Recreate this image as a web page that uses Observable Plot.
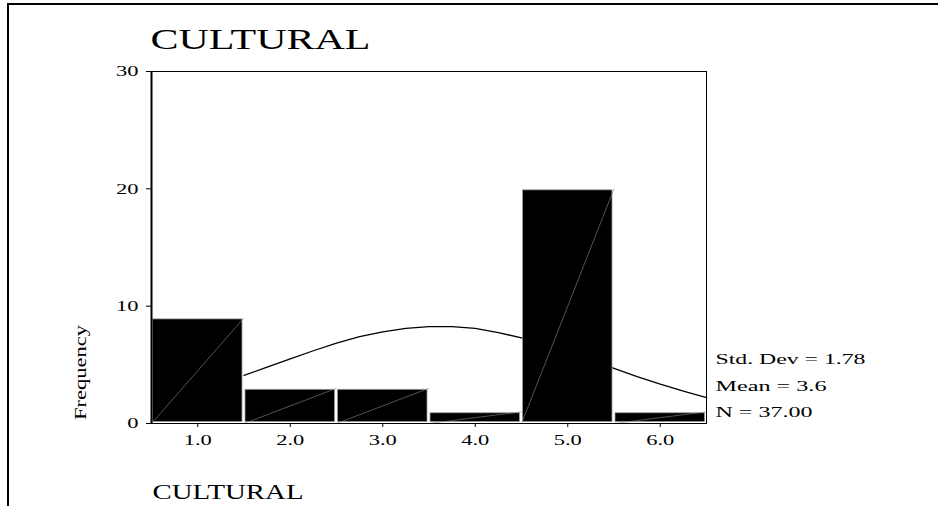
<!DOCTYPE html>
<html><head><meta charset="utf-8">
<script src="https://cdn.jsdelivr.net/npm/d3@7"></script>
<script src="https://cdn.jsdelivr.net/npm/@observablehq/plot@0.6"></script>
<style>
html,body{margin:0;padding:0;background:#fff;}
#wrap{position:relative;width:938px;height:506px;overflow:hidden;}
#border{position:absolute;left:7px;top:3px;width:940px;height:510px;border-top:2px solid #000;border-left:2px solid #000;pointer-events:none;}
#wrap svg{position:absolute;left:0;top:0;}
</style></head><body>
<div id="wrap"><div id="border"></div></div>
<script>
// ---- data ----
const categories = [1, 2, 3, 4, 5, 6];
const frequencies = [9, 3, 3, 1, 20, 1];
const curveX = [1.5, 1.75, 2.0, 2.25, 2.5, 2.75, 3.0, 3.25, 3.5, 3.75, 4.0, 4.25, 4.5, 4.75, 5.0, 5.25, 5.5, 5.75, 6.0, 6.25, 6.5];
const curveY = [4.1, 4.8, 5.5, 6.2, 6.85, 7.4, 7.8, 8.1, 8.25, 8.25, 8.1, 7.75, 7.3, 6.7, 6.1, 5.4, 4.7, 4.0, 3.35, 2.75, 2.2];
const yTicks = [0, 10, 20, 30];
const xTicks = [1, 2, 3, 4, 5, 6];
const titleText = "CULTURAL";
const xLabel = "CULTURAL";
const yLabel = "Frequency";
const statsLabels = ["Std. Dev = 1.78", "Mean = 3.6", "N = 37.00"];

const bins = categories.map((c, i) => ({x1: c - 0.5, x2: c + 0.5, freq: frequencies[i]}));
const curve = curveX.map((x, i) => ({x, y: curveY[i]}));

const serif = "'Liberation Serif', 'Times New Roman', serif";

const chart = Plot.plot({
  width: 938,
  height: 506,
  marginLeft: 151,
  marginRight: 232,
  marginTop: 71,
  marginBottom: 83,
  style: {fontFamily: serif, fontSize: "15px", background: "transparent", color: "#000", overflow: "visible"},
  x: {domain: [0.5, 6.5]},
  y: {domain: [0, 30]},
  marks: [
    Plot.line(curve, {x: "x", y: "y", stroke: "#000", strokeWidth: 1.3}),
    Plot.rectY(bins, {x1: "x1", x2: "x2", y: "freq", fill: "#000", stroke: "#9a9a9a", strokeWidth: 0.8, inset: 1.5}),
    Plot.link(bins, {x1: "x1", y1: 0, x2: "x2", y2: "freq", stroke: "#8a8a8a", strokeWidth: 0.6}),
    Plot.frame({stroke: "#000", strokeWidth: 1}),
    Plot.ruleX([0.5], {stroke: "#000", strokeWidth: 2}),
    Plot.axisY({ticks: yTicks, tickSize: 5, tickPadding: 8, tickFormat: d => String(d), label: null}),
    Plot.axisX({ticks: xTicks, tickSize: 4, tickPadding: 7, tickFormat: d => d.toFixed(1), label: null}),
    Plot.text([titleText], {text: d => d, frameAnchor: "top-left", dx: -1, dy: -23, textAnchor: "start", lineAnchor: "bottom", fontSize: 30}),
    Plot.text([xLabel], {text: d => d, frameAnchor: "bottom-left", dx: 1, dy: 75, textAnchor: "start", lineAnchor: "bottom", fontSize: 22}),
    Plot.text([yLabel], {text: d => d, frameAnchor: "bottom-left", dx: -66, dy: -51, rotate: -90, textAnchor: "middle", lineAnchor: "bottom", fontSize: 16}),
    Plot.text([statsLabels[0]], {text: d => d, frameAnchor: "bottom-right", dx: 9, dy: -60, textAnchor: "start", lineAnchor: "bottom", fontSize: 15}),
    Plot.text([statsLabels[1]], {text: d => d, frameAnchor: "bottom-right", dx: 9, dy: -33, textAnchor: "start", lineAnchor: "bottom", fontSize: 15}),
    Plot.text([statsLabels[2]], {text: d => d, frameAnchor: "bottom-right", dx: 9, dy: -7, textAnchor: "start", lineAnchor: "bottom", fontSize: 15})
  ]
});
document.getElementById("wrap").appendChild(chart);

// horizontally stretch the text like the reference rendering
const targetWidths = new Map([
  [titleText + "|30", 220],
  [xLabel + "|22", 151],
  [yLabel, 95],
  [statsLabels[0], 150],
  [statsLabels[1], 111],
  [statsLabels[2], 97]
]);
d3.select(chart).selectAll("text").each(function() {
  const t = this.textContent;
  const fs = parseFloat(getComputedStyle(this).fontSize);
  const natural = this.getComputedTextLength();
  let target = targetWidths.get(t + "|" + Math.round(fs)) ?? targetWidths.get(t);
  if (target == null) target = natural * 1.5;
  this.setAttribute("textLength", target);
  this.setAttribute("lengthAdjust", "spacingAndGlyphs");
});
</script>
</body></html>
